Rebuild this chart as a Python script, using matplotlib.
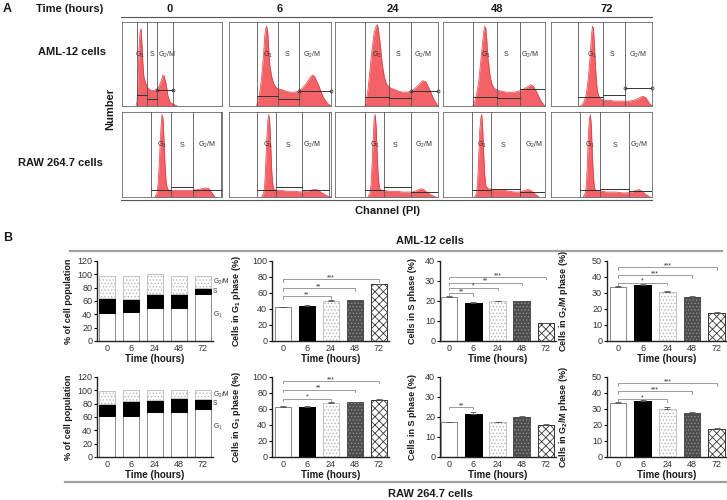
import matplotlib
matplotlib.use('Agg')
import matplotlib.pyplot as plt
import numpy as np

plt.rcParams['font.family'] = ['Liberation Sans', 'DejaVu Sans']
plt.rcParams['mathtext.fontset'] = 'custom'
plt.rcParams['mathtext.rm'] = 'Liberation Sans'
plt.rcParams['mathtext.default'] = 'regular'
plt.rcParams['hatch.linewidth'] = 0.6

# ---------------- DATA ----------------
times = ['0', '6', '24', '48', '72']

# Panel A: flow-cytometry histograms (channel %, relative count)
aml_0_ch = [14, 15, 16, 17, 18, 19, 20, 21, 22, 24, 26, 28, 30, 32, 34, 36, 38, 40, 41, 42, 44, 46, 48, 50, 52, 55]
aml_0_h = [0, 0.05, 0.3, 0.7, 0.9, 0.95, 0.75, 0.5, 0.35, 0.27, 0.22, 0.2, 0.19, 0.19, 0.2, 0.22, 0.27, 0.34, 0.38, 0.37, 0.28, 0.12, 0.05, 0.03, 0.02, 0]
aml_6_ch = [27, 28, 30, 32, 34, 35, 36, 37, 38, 39, 40, 42, 44, 46, 48, 52, 56, 60, 64, 68, 72, 76, 80, 82, 84, 88, 92, 96, 98, 100]
aml_6_h = [0, 0.05, 0.15, 0.35, 0.65, 0.85, 0.95, 0.98, 0.9, 0.7, 0.5, 0.35, 0.27, 0.23, 0.21, 0.2, 0.18, 0.17, 0.17, 0.18, 0.22, 0.28, 0.36, 0.38, 0.36, 0.25, 0.12, 0.04, 0.02, 0]
aml_24_ch = [29, 30, 32, 34, 36, 38, 40, 41, 42, 44, 46, 48, 50, 54, 58, 62, 66, 70, 74, 78, 82, 85, 88, 92, 96, 100]
aml_24_h = [0, 0.05, 0.2, 0.45, 0.7, 0.9, 0.98, 1.0, 0.95, 0.75, 0.5, 0.35, 0.27, 0.22, 0.2, 0.18, 0.17, 0.17, 0.18, 0.22, 0.27, 0.31, 0.3, 0.2, 0.08, 0]
aml_48_ch = [29, 31, 33, 35, 37, 39, 40, 41, 42, 43, 44, 46, 48, 50, 54, 58, 62, 66, 70, 74, 78, 82, 86, 88, 92, 96, 100]
aml_48_h = [0, 0.05, 0.15, 0.3, 0.55, 0.8, 0.92, 0.98, 0.95, 0.8, 0.6, 0.38, 0.27, 0.22, 0.19, 0.18, 0.17, 0.17, 0.17, 0.18, 0.2, 0.23, 0.26, 0.25, 0.17, 0.06, 0]
aml_72_ch = [29, 31, 33, 35, 37, 39, 40, 41, 42, 43, 44, 45, 46, 48, 50, 54, 58, 62, 66, 70, 74, 78, 82, 86, 89, 91, 94, 97, 100]
aml_72_h = [0, 0.02, 0.06, 0.15, 0.35, 0.65, 0.85, 0.98, 0.95, 0.75, 0.5, 0.3, 0.18, 0.1, 0.08, 0.07, 0.07, 0.06, 0.06, 0.06, 0.06, 0.06, 0.07, 0.09, 0.11, 0.12, 0.1, 0.04, 0]
raw_0_ch = [33, 35, 36, 37, 38, 39, 40, 41, 42, 43, 44, 45, 46, 48, 50, 55, 60, 65, 70, 75, 80, 84, 87, 90, 93]
raw_0_h = [0, 0.05, 0.15, 0.35, 0.6, 0.85, 1.0, 0.95, 0.7, 0.4, 0.2, 0.12, 0.09, 0.08, 0.08, 0.08, 0.08, 0.08, 0.08, 0.09, 0.1, 0.11, 0.1, 0.05, 0]
raw_6_ch = [32, 34, 35, 36, 37, 38, 39, 40, 41, 42, 43, 44, 46, 48, 52, 56, 60, 65, 70, 75, 80, 83, 86, 90, 94, 97, 100]
raw_6_h = [0, 0.05, 0.15, 0.4, 0.7, 0.92, 1.0, 0.9, 0.6, 0.3, 0.15, 0.1, 0.08, 0.08, 0.08, 0.07, 0.07, 0.07, 0.06, 0.07, 0.08, 0.09, 0.09, 0.06, 0.03, 0.01, 0]
raw_24_ch = [32, 34, 35, 36, 37, 38, 39, 40, 41, 42, 43, 44, 46, 48, 52, 56, 60, 65, 70, 75, 80, 83, 86, 90, 94, 98]
raw_24_h = [0, 0.05, 0.15, 0.4, 0.7, 0.95, 1.0, 0.85, 0.5, 0.25, 0.12, 0.09, 0.08, 0.08, 0.07, 0.07, 0.07, 0.06, 0.06, 0.06, 0.08, 0.1, 0.09, 0.05, 0.02, 0]
raw_48_ch = [31, 33, 34, 35, 36, 37, 38, 39, 40, 41, 42, 44, 46, 50, 55, 60, 65, 70, 75, 80, 83, 86, 90, 94]
raw_48_h = [0, 0.05, 0.2, 0.5, 0.8, 0.95, 1.0, 0.8, 0.5, 0.25, 0.14, 0.1, 0.1, 0.09, 0.08, 0.08, 0.07, 0.06, 0.06, 0.08, 0.09, 0.08, 0.04, 0]
raw_72_ch = [32, 34, 35, 36, 37, 38, 39, 40, 41, 42, 43, 44, 46, 50, 55, 60, 65, 70, 75, 80, 84, 87, 90, 94, 98]
raw_72_h = [0, 0.05, 0.15, 0.4, 0.75, 0.95, 1.0, 0.85, 0.5, 0.25, 0.12, 0.08, 0.07, 0.07, 0.06, 0.06, 0.06, 0.05, 0.05, 0.06, 0.08, 0.09, 0.07, 0.03, 0]

# gates (G1 start, S start, G2/M start, G2/M end) and marker heights
aml_gates = [[15, 25, 35, 51], [27.5, 48, 68.6, 100], [29, 52, 74, 100], [29, 53, 75, 100], [27, 51, 73, 100]]
aml_marks = [[0.13, 0.09, 0.2], [0.12, 0.08, 0.19], [0.11, 0.1, 0.19], [0.11, 0.1, 0.21], [0.11, 0.13, 0.22]]
aml_labx = [[18, 30, 45], [38, 57, 81], [41, 61, 85], [42, 62, 85], [41, 60, 86]]
raw_gates = [[29, 49, 71, 99], [27.5, 46, 71.5, 98], [29, 48, 74, 100], [28, 47, 75, 100], [29, 49, 77, 100]]
raw_marks = [[0.09, 0.12, 0.08], [0.08, 0.12, 0.08], [0.08, 0.12, 0.06], [0.08, 0.1, 0.06], [0.08, 0.1, 0.07]]
raw_labx = [[40, 60, 85], [38, 58, 81], [39, 58, 86], [38, 59, 89], [39, 63, 87]]

# Panel B: stacked distribution (%)
aml_stack_g1 = [42, 44, 50, 50, 70]
aml_stack_s = [23, 19, 21, 20, 10]
aml_stack_g2m = [33, 35, 30, 28, 18]
raw_stack_g1 = [62, 62, 68, 68, 72]
raw_stack_s = [18, 22, 17, 21, 15]
raw_stack_g2m = [19, 16, 15, 11, 13]

# Panel B: phase percentages (mean, upper error)
aml_g1 = [42.5, 44, 50.5, 51, 71]
aml_g1_err = [0.3, 0.8, 1.0, 0.5, 0.5]
aml_s = [22.2, 19.2, 20, 19.8, 8.8]
aml_s_err = [0.4, 0.4, 0.2, 0.3, 0.2]
aml_g2m = [34, 35.3, 30.7, 27.8, 17.8]
aml_g2m_err = [0.3, 0.4, 0.5, 0.6, 0.3]
raw_g1 = [63, 63, 67.8, 68.2, 71.7]
raw_g1_err = [0.3, 0.3, 0.5, 0.8, 0.5]
raw_s = [17.5, 21.5, 17.5, 20, 15.8]
raw_s_err = [0.1, 0.8, 0.1, 0.6, 0.5]
raw_g2m = [34, 35.2, 30, 27.8, 17.8]
raw_g2m_err = [0.3, 0.5, 1.3, 0.3, 0.4]

# significance brackets: (from bar, to bar, label, height)
aml_g1_sig = [(0, 2, '**', 56), (0, 3, '**', 66), (0, 4, '***', 77)]
aml_s_sig = [(0, 1, '**', 23.8), (0, 2, '*', 26.6), (0, 3, '**', 29.2), (0, 4, '***', 32)]
aml_g2m_sig = [(0, 2, '*', 36.5), (0, 3, '***', 41), (0, 4, '***', 46)]
raw_g1_sig = [(0, 2, '*', 73), (0, 3, '**', 84), (0, 4, '***', 95)]
raw_s_sig = [(0, 1, '**', 25)]
raw_g2m_sig = [(0, 2, '*', 36), (0, 3, '***', 41), (0, 4, '***', 46)]

# ---------------- FIGURE ----------------
W, H = 727, 500
fig = plt.figure(figsize=(W / 100, H / 100), dpi=100)
TXT = '#1a1a1a'


def px_axes(x0, y0, x1, y1):
    return fig.add_axes([x0 / W, 1 - y1 / H, (x1 - x0) / W, (y1 - y0) / H])


def px_text(x, y, s, **kw):
    fig.text(x / W, 1 - y / H, s, color=TXT, **kw)


def px_hline(x0, x1, y, **kw):
    fig.add_artist(plt.Line2D([x0 / W, x1 / W], [1 - y / H, 1 - y / H], transform=fig.transFigure, **kw))


def draw_hist(ax, ch, h, gates, marks, labx, circles):
    ax.set_xlim(0, 100)
    ax.set_ylim(0, 1.03)
    ax.set_xticks([])
    ax.set_yticks([])
    for sp in ax.spines.values():
        sp.set_color('#666666')
        sp.set_linewidth(0.6)
    ax.fill_between(ch, h, 0, color='#f26266', lw=0, zorder=1)
    ax.plot(ch, h, color='#e03a42', lw=0.5, zorder=2)
    for g in gates:
        ax.axvline(g, color='#555555', lw=0.6, zorder=3)
    for i in range(3):
        ax.plot([gates[i], gates[i + 1]], [marks[i]] * 2, color='#333333', lw=0.7, zorder=4)
    if circles:
        ax.plot([gates[2], gates[3]], [marks[2]] * 2, 'o', ms=2.2, mfc='none', mec='#333333',
                mew=0.5, zorder=5, clip_on=False)
    for x, t in zip(labx, ['G$_1$', 'S', 'G$_2$/M']):
        ax.text(x, 0.63, t, fontsize=5, ha='center', va='center', color='#333333', zorder=6)


cols = [(122, 222), (229, 331), (335, 438), (443, 545), (551, 652)]
aml_hists = [(aml_0_ch, aml_0_h), (aml_6_ch, aml_6_h), (aml_24_ch, aml_24_h), (aml_48_ch, aml_48_h), (aml_72_ch, aml_72_h)]
raw_hists = [(raw_0_ch, raw_0_h), (raw_6_ch, raw_6_h), (raw_24_ch, raw_24_h), (raw_48_ch, raw_48_h), (raw_72_ch, raw_72_h)]
aml_circ = [True, True, True, False, True]
for k, (x0, x1) in enumerate(cols):
    ax = px_axes(x0, 22, x1, 106)
    draw_hist(ax, aml_hists[k][0], aml_hists[k][1], aml_gates[k], aml_marks[k], aml_labx[k], aml_circ[k])
    ax = px_axes(x0, 112, x1, 197)
    draw_hist(ax, raw_hists[k][0], raw_hists[k][1], raw_gates[k], raw_marks[k], raw_labx[k], False)

# Panel A texts
px_text(3, 9, 'A', fontsize=9, fontweight='bold', ha='left', va='center')
px_text(70, 9, 'Time (hours)', fontsize=8, fontweight='bold', ha='center', va='center')
for t, x in zip(times, [170, 280, 393, 497, 607]):
    px_text(x, 9, t, fontsize=8, fontweight='bold', ha='center', va='center')
px_hline(121, 652, 17, color='#555555', lw=0.8)
px_text(72, 52, 'AML-12 cells', fontsize=8, fontweight='bold', ha='center', va='center')
px_text(60, 163, 'RAW 264.7 cells', fontsize=8, fontweight='bold', ha='center', va='center')
px_text(110, 109, 'Number', fontsize=8, fontweight='bold', ha='center', va='center', rotation=90)
px_hline(121, 652, 200, color='#555555', lw=0.8)
px_text(387, 211, 'Channel (PI)', fontsize=8, fontweight='bold', ha='center', va='center')

# Panel B texts
px_text(3, 238, 'B', fontsize=9, fontweight='bold', ha='left', va='center')
px_text(430, 241, 'AML-12 cells', fontsize=8, fontweight='bold', ha='center', va='center')
px_hline(70, 722, 251, color='#a0a0a0', lw=1.6)
px_hline(65, 727, 482, color='#a0a0a0', lw=1.6)
px_text(430, 494, 'RAW 264.7 cells', fontsize=8, fontweight='bold', ha='center', va='center')

x = np.arange(5)
BW = 0.68
bar_styles = [
    dict(fc='white', hc='#8a8a8a', ec='#8a8a8a', hatch=None),
    dict(fc='black', hc='black', ec='black', hatch=None),
    dict(fc='white', hc='#b4b4b4', ec='#c4c4c4', hatch='.....'),
    dict(fc='#4d4d4d', hc='#8e8e8e', ec='#4d4d4d', hatch='.....'),
    dict(fc='white', hc='#3a3a3a', ec='#3a3a3a', hatch='xxxx'),
]


def style_ax(ax, top, step, ylabel, labx, xleft):
    ax.set_ylim(0, top)
    ax.set_yticks(np.arange(0, top + 0.1, step))
    ax.set_xlim(xleft, 4.42)
    ax.set_xticks(x)
    ax.set_xticklabels(times)
    ax.tick_params(axis='x', length=0, pad=2.5, labelsize=6.5, labelcolor='#333333')
    ax.tick_params(axis='y', length=2.5, width=0.8, labelsize=6.5, pad=1, labelcolor='#333333')
    ax.spines[['top', 'right']].set_visible(False)
    for s in ['left', 'bottom']:
        ax.spines[s].set_linewidth(1.0)
        ax.spines[s].set_color('#222222')
    ax.set_xlabel('Time (hours)', fontsize=7, fontweight='bold', labelpad=0.5, color=TXT)
    ax.set_ylabel(ylabel, fontsize=6.5, fontweight='bold', color=TXT)
    ax.yaxis.set_label_coords(labx, 0.5)


def draw_stack(ax, g1, s, g2m, labys):
    g1 = np.array(g1)
    s = np.array(s)
    ax.bar(x, g1, BW, color='white', edgecolor='#8a8a8a', lw=0.7)
    ax.bar(x, s, BW, bottom=g1, color='black', edgecolor='black', lw=0.7)
    ax.bar(x, g2m, BW, bottom=g1 + s, color='white', edgecolor='#b8b8b8', hatch='.....', lw=0.6)
    ax.bar(x, g2m, BW, bottom=g1 + s, fill=False, edgecolor='#c4c4c4', lw=0.7)
    for t, yv in zip(['G$_2$/M', 'S', 'G$_1$'], labys):
        ax.text(4.40, yv, t, fontsize=4.8, ha='left', va='center', color='#333333', clip_on=False)
    style_ax(ax, 120, 20, '% of cell population', -0.21, -0.42)


def draw_bars(ax, vals, errs, sig, top, step, ylabel, labx, xleft):
    for i in range(5):
        st = bar_styles[i]
        ax.bar(x[i], vals[i], BW, color=st['fc'], edgecolor=st['hc'], hatch=st['hatch'], lw=0.6, zorder=2)
        ax.bar(x[i], vals[i], BW, fill=False, edgecolor=st['ec'], lw=0.7, zorder=3)
    ax.errorbar(x, vals, yerr=[np.zeros(5), errs], fmt='none', ecolor='#555555', elinewidth=0.6,
                capsize=2, capthick=0.6, zorder=4)
    d = top * 0.03
    for i, j, lab, yv in sig:
        ax.plot([x[i], x[i], x[j], x[j]], [yv - d, yv, yv, yv - d], color='#8c8c8c', lw=0.6,
                clip_on=False, zorder=5)
        ax.text((x[i] + x[j]) / 2, yv - top * 0.025, lab, ha='center', va='bottom', fontsize=5,
                color='#333333', zorder=6)
    style_ax(ax, top, step, ylabel, labx, xleft)


rows = [(261, 341), (377, 457)]
for r, (y0, y1) in enumerate(rows):
    ax = px_axes(97, y0, 213, y1)
    if r == 0:
        draw_stack(ax, aml_stack_g1, aml_stack_s, aml_stack_g2m, [89, 74, 39])
    else:
        draw_stack(ax, raw_stack_g1, raw_stack_s, raw_stack_g2m, [93, 80, 45])

    ax = px_axes(272, y0, 389, y1)
    if r == 0:
        draw_bars(ax, aml_g1, aml_g1_err, aml_g1_sig, 100, 20, 'Cells in G$_1$ phase (%)', -0.245, -0.46)
    else:
        draw_bars(ax, raw_g1, raw_g1_err, raw_g1_sig, 100, 20, 'Cells in G$_1$ phase (%)', -0.245, -0.46)

    ax = px_axes(440, y0, 556, y1)
    if r == 0:
        draw_bars(ax, aml_s, aml_s_err, aml_s_sig, 40, 10, 'Cells in S phase (%)', -0.2, -0.38)
    else:
        draw_bars(ax, raw_s, raw_s_err, raw_s_sig, 40, 10, 'Cells in S phase (%)', -0.2, -0.38)

    ax = px_axes(607, y0, 727, y1)
    if r == 0:
        draw_bars(ax, aml_g2m, aml_g2m_err, aml_g2m_sig, 50, 10, 'Cells in G$_2$/M phase (%)', -0.31, -0.45)
    else:
        draw_bars(ax, raw_g2m, raw_g2m_err, raw_g2m_sig, 50, 10, 'Cells in G$_2$/M phase (%)', -0.31, -0.45)

fig.savefig('out.png', dpi=100)
